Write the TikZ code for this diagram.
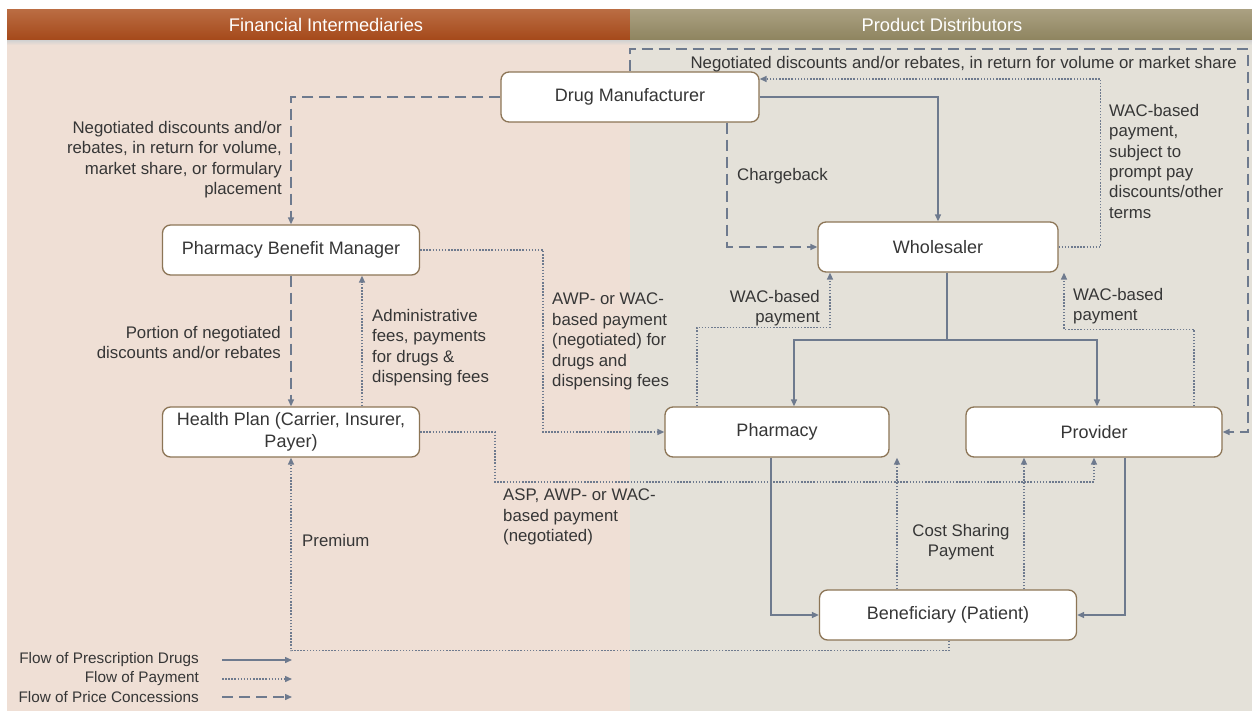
\documentclass[tikz,border=0pt]{standalone}
\usepackage{fontspec}
\setmainfont{Liberation Sans}
\usetikzlibrary{arrows.meta}
\definecolor{lnc}{HTML}{6E7A8E}
\definecolor{bdr}{HTML}{8C7556}
\definecolor{bgL}{HTML}{EFDFD5}
\definecolor{bgR}{HTML}{E4E1D9}
\definecolor{hdLa}{HTML}{BA6C42}
\definecolor{hdLb}{HTML}{A5491A}
\definecolor{hdRa}{HTML}{AAA081}
\definecolor{hdRb}{HTML}{8E845F}
\definecolor{txt}{HTML}{363636}
\newcommand\lblfont{\fontsize{16.8}{20.4}\selectfont}
\newcommand\boxfont{\fontsize{18}{22}\selectfont}
\newcommand\legfont{\fontsize{15.3}{18.5}\selectfont}
\newcommand\hdfont{\fontsize{18.3}{20}\selectfont}
\tikzset{
  box/.style={draw=bdr, line width=1.3pt, fill=white, rounded corners=8pt,
    minimum height=50pt, inner sep=0pt, font=\boxfont, text=txt, align=center},
  lbl/.style={inner sep=0pt, font=\lblfont, text=txt},
  leg/.style={inner sep=0pt, font=\legfont, text=txt, anchor=east},
  tip/.style={-{Triangle[length=7pt,width=6pt]}},
  drug/.style={draw=lnc, line width=1.4pt, tip},
  pay/.style={draw=lnc, line width=1.4pt, dash pattern=on 1.5pt off 1.6pt, tip},
  conc/.style={draw=lnc, line width=1.4pt, dash pattern=on 11pt off 6pt, tip},
}
\begin{document}
\begin{tikzpicture}[x=1pt,y=-1pt]
\useasboundingbox (0,0) rectangle (1252,711);
\fill[white] (0,0) rectangle (1252,711);
\fill[bgL] (7,40) rectangle (630,711);
\fill[bgR] (630,40) rectangle (1252,711);
\shade[top color=black!18, bottom color=bgL] (7,40) rectangle (630,45);
\shade[top color=black!18, bottom color=bgR] (630,40) rectangle (1252,45);
\shade[top color=hdLa, bottom color=hdLb] (7,10) rectangle (630,40);
\shade[top color=hdRa, bottom color=hdRb] (630,10) rectangle (1252,40);
\node[font=\hdfont, text=white] (hL) at (326,25) {Financial Intermediaries};
\node[font=\hdfont, text=white] (hR) at (942,25) {Product Distributors};

% boxes
\node[box, minimum width=258pt] (dm) at (630,97) {Drug Manufacturer};
\node[box, minimum width=257pt] (pbm) at (291,250) {Pharmacy Benefit Manager};
\node[box, minimum width=257pt] (hp) at (291,432) {Health Plan (Carrier, Insurer,\\Payer)};
\node[box, minimum width=240pt] (ws) at (938,247) {Wholesaler};
\node[box, minimum width=224pt] (ph) at (777,432) {Pharmacy};
\node[box, minimum width=256pt] (pv) at (1094,432) {Provider};
\node[box, minimum width=257pt] (bn) at (948,615) {Beneficiary (Patient)};

% coordinates
\coordinate (tr) at (1248,49);
\coordinate (wsj) at (947,340);

% drug flows
\draw[drug] (dm.east) -| (ws.north);
\draw[drug] ([xshift=9pt]ws.south) -- (wsj) -| ([xshift=17pt]ph.north);
\draw[drug] (wsj) -| ([xshift=3pt]pv.north);
\draw[drug] ([xshift=-6pt]ph.south) |- (bn.west);
\draw[drug] ([xshift=31pt]pv.south) |- (bn.east);

% concessions
\draw[conc] (dm.west) -| (pbm.north);
\draw[conc] ([xshift=97pt]dm.south) |- (ws.west);
\draw[conc] (dm.north) |- (tr) |- (pv.east);
\draw[conc] (pbm.south) -- (hp.north);

% payments
\draw[pay] (ws.east) -- ++(42,0) |- ([yshift=18pt]dm.east);
\draw[pay] ([xshift=-80pt]ph.north) -- ++(0,-79) -| ([xshift=-108pt]ws.south);
\draw[pay] ([xshift=100pt]pv.north) -- ++(0,-77) -| ([xshift=126pt]ws.south);
\draw[pay] (pbm.east) -- ++(123,0) |- (ph.west);
\draw[pay] ([xshift=71pt]hp.north) -- ([xshift=71pt]pbm.south);
\draw[pay] (hp.east) -- ++(75,0) -- ++(0,50) -| (pv.south);
\draw[pay] ([xshift=-51pt]bn.north) -- ([xshift=120pt]ph.south);
\draw[pay] ([xshift=76pt]bn.north) -- ([xshift=-70pt]pv.south);
\draw[pay] ([xshift=1pt]bn.south) -- ++(0,10) -| (hp.south);

% labels
\node[lbl, anchor=north east, align=right] (l1) at (282,121) {Negotiated discounts and/or\\rebates, in return for volume,\\market share, or formulary\\placement};
\node[lbl, anchor=north east, align=right] (l2) at (281,326) {Portion of negotiated\\discounts and/or rebates};
\node[lbl, anchor=north west, align=left] (l3) at (372,309) {Administrative\\fees, payments\\for drugs \&\\dispensing fees};
\node[lbl, anchor=north west, align=left] (l4) at (552,293) {AWP- or WAC-\\based payment\\(negotiated) for\\drugs and\\dispensing fees};
\node[lbl, anchor=north west, align=left] (l5) at (503,489) {ASP, AWP- or WAC-\\based payment\\(negotiated)};
\node[lbl, anchor=north west] (l6) at (302,534) {Premium};
\node[lbl, anchor=north west] (l7) at (737,168) {Chargeback};
\node[lbl, anchor=north west, align=left] (l8) at (1109,104) {WAC-based\\payment,\\subject to\\prompt pay\\discounts/other\\terms};
\node[lbl, anchor=north east] (l9) at (1237,56) {Negotiated discounts and/or rebates, in return for volume or market share};
\node[lbl, anchor=north east, align=right] (l10) at (820,290) {WAC-based\\payment};
\node[lbl, anchor=north west, align=left] (l11) at (1073,288) {WAC-based\\payment};
\node[lbl, anchor=north, align=center] (l12) at (961,524) {Cost Sharing\\Payment};

% legend
\node[leg] (g1) at (199,660) {Flow of Prescription Drugs};
\node[leg] (g2) at (199,679) {Flow of Payment};
\node[leg] (g3) at (199,697) {Flow of Price Concessions};
\coordinate (g1a) at (222,660); \coordinate (g1b) at (292,660);
\coordinate (g2a) at (222,679); \coordinate (g2b) at (292,679);
\coordinate (g3a) at (222,697); \coordinate (g3b) at (292,697);
\draw[drug] (g1a) -- (g1b);
\draw[pay] (g2a) -- (g2b);
\draw[conc] (g3a) -- (g3b);
\end{tikzpicture}
\end{document}
